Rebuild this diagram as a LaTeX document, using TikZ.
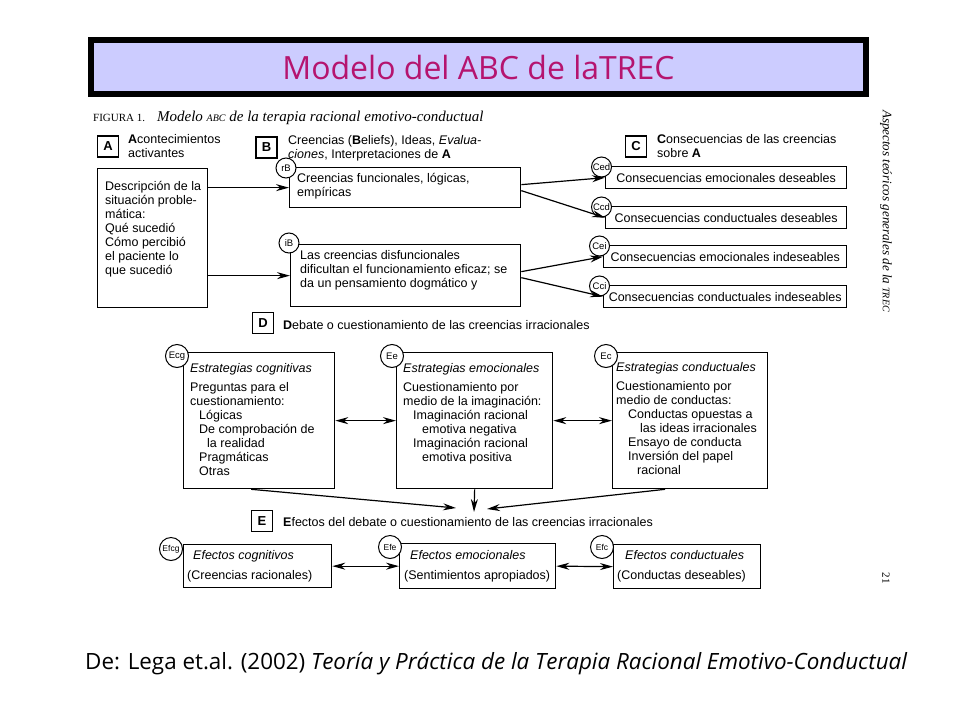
\documentclass[tikz,border=0pt]{standalone}
\usepackage{fontspec}
\setmainfont{Liberation Serif}
\setsansfont{Liberation Sans}
\newfontfamily\comic{Open Sans}
\usetikzlibrary{arrows.meta}

\definecolor{titlemag}{HTML}{B5146F}
\definecolor{lavender}{HTML}{CCCCFF}

\tikzset{
  box/.style={draw, line width=1.3pt, inner sep=0pt, anchor=north west},
  cbox/.style={box, minimum height=22pt, font=\sffamily\fontsize{12.5}{14}\selectfont},
  tag/.style={draw, circle, fill=white, line width=1pt, inner sep=0pt, minimum size=#1,
    font=\sffamily\fontsize{9.5}{10}\selectfont},
  tag/.default=20pt,
  letter/.style={draw, line width=1.4pt, minimum size=21pt, inner sep=0pt,
    font=\sffamily\bfseries\fontsize{13}{13}\selectfont},
  txt/.style={anchor=north west, align=left, inner sep=0pt, font=\sffamily\fontsize{12.5}{14}\selectfont},
  arr/.style={-{Stealth[length=13pt,width=7pt]}, line width=1.2pt},
  darr/.style={{Stealth[length=13pt,width=7pt]}-{Stealth[length=13pt,width=7pt]}, line width=1.2pt},
}

\begin{document}
\begin{tikzpicture}[x=1pt,y=-1pt]
    \useasboundingbox[fill=white] (0,0) rectangle (960,720);

    % Title banner
    \node[draw=black, line width=6pt, fill=lavender, minimum width=775pt, minimum height=54pt,
      text=titlemag, font=\comic\fontsize{32}{32}\selectfont] (title) at (478.5,67) {Modelo del ABC de laTREC};

    % Figure caption and side texts
    \node[anchor=base west, inner sep=0pt] (fig) at (93,121)
      {{\fontsize{11}{11}\selectfont FIGURA 1.}\hspace{12pt}\textit{\fontsize{15}{15}\selectfont Modelo {\fontsize{10}{10}\selectfont ABC} de la terapia racional emotivo-conductual}};
    \node[rotate=-90, inner sep=0pt, font=\itshape\fontsize{13}{13}\selectfont] (side) at (886,211)
      {Aspectos teóricos generales de la {\fontsize{10}{10}\selectfont TREC}};
    \node[rotate=-90, inner sep=0pt, font=\fontsize{11}{11}\selectfont] (pagenum) at (886,578) {21};

    % A: activating events
    \node[letter] (A) at (108,146.5) {A};
    \node[txt] (Ahead) at (128,134) {\textbf{A}contecimientos\\activantes};
    \node[box, minimum width=110pt, minimum height=139pt] (Abox) at (97,168) {};
    \node[txt] (Atext) at (105,181) {Descripción de la\\situación proble-\\mática:\\Qué sucedió\\Cómo percibió\\el paciente lo\\que sucedió};

    % B: beliefs
    \node[letter] (B) at (266.5,147.5) {B};
    \node[txt] (Bhead) at (288,135) {Creencias (\textbf{B}eliefs), Ideas, \textit{Evalua-}\\\textit{ciones}, Interpretaciones de \textbf{A}};
    \node[box, minimum width=231pt, minimum height=40pt] (rB) at (289,167) {};
    \node[tag] (rBtag) at (286,168) {rB};
    \node[txt] (rBtext) at (297,173) {Creencias funcionales, lógicas,\\empíricas};
    \node[box, minimum width=230pt, minimum height=62pt] (iB) at (290,244) {};
    \node[tag] (iBtag) at (289,243) {iB};
    \node[txt] (iBtext) at (300,250) {Las creencias disfuncionales\\dificultan el funcionamiento eficaz; se\\da un pensamiento dogmático y};

    % C: consequences
    \node[letter] (C) at (636,146.5) {C};
    \node[txt] (Chead) at (657,134) {\textbf{C}onsecuencias de las creencias\\sobre \textbf{A}};
    \foreach \n/\x/\y/\w/\t in {Ced/605/166/241/Consecuencias emocionales deseables,
                                Ccd/605/206/241/Consecuencias conductuales deseables,
                                Cei/603/245/243/Consecuencias emocionales indeseables,
                                Cci/603/285/243/Consecuencias conductuales indeseables}{
      \node[cbox, minimum width=\w pt] (\n) at (\x,\y) {\t};
      \node[tag] (\n tag) at (\x-3.5,\y+1) {\n};
    }

    % A -> B -> C
    \draw[arr] (Abox.east |- rB.west) -- (rB.west);
    \draw[arr] (Abox.east |- iB.west) -- (iB.west);
    \draw[arr] ([yshift=3pt]rB.east) -- (Ced.west);
    \draw[arr] ([yshift=-3pt]rB.east) -- (Ccd.west);
    \draw[arr] ([yshift=4pt]iB.east) -- (Cei.west);
    \draw[arr] ([yshift=-2pt]iB.east) -- (Cci.west);

    % D: disputing strategies
    \node[letter] (D) at (263,323) {D};
    \node[txt, anchor=west] (Dhead) at (283,325) {\textbf{D}ebate o cuestionamiento de las creencias irracionales};
    \node[box, minimum width=151pt, minimum height=136pt] (Ecg) at (183,352) {};
    \node[box, minimum width=156pt, minimum height=136pt] (Ee) at (396,352) {};
    \node[box, minimum width=155pt, minimum height=136pt] (Ec) at (612,352) {};
    \node[tag=23pt] (Ecgtag) at (177,356) {Ecg};
    \node[tag=23pt] (Eetag) at (392,356) {Ee};
    \node[tag=23pt] (Ectag) at (606,356) {Ec};
    \node[txt] (Ecgtext) at (190,363) {\textit{Estrategias cognitivas}\\[5pt]Preguntas para el\\cuestionamiento:\\
      \hspace*{9pt}Lógicas\\\hspace*{9pt}De comprobación de\\\hspace*{17pt}la realidad\\\hspace*{9pt}Pragmáticas\\\hspace*{9pt}Otras};
    \node[txt] (Eetext) at (403,363) {\textit{Estrategias emocionales}\\[5pt]Cuestionamiento por\\medio de la imaginación:\\
      \hspace*{10pt}Imaginación racional\\\hspace*{19pt}emotiva negativa\\\hspace*{10pt}Imaginación racional\\\hspace*{19pt}emotiva positiva};
    \node[txt] (Ectext) at (616,362) {\textit{Estrategias conductuales}\\[5pt]Cuestionamiento por\\medio de conductas:\\
      \hspace*{12pt}Conductas opuestas a\\\hspace*{24pt}las ideas irracionales\\\hspace*{12pt}Ensayo de conducta\\\hspace*{12pt}Inversión del papel\\\hspace*{21pt}racional};
    \draw[darr] (Ecg.east) -- (Ee.west);
    \draw[darr] (Ee.east) -- (Ec.west);

    % D -> E
    \coordinate (hubL) at (456,508);
    \coordinate (hubM) at (474,512);
    \coordinate (hubR) at (487,509);
    \draw[arr] ([xshift=-8pt]Ecg.south) -- (hubL);
    \draw[arr] (Ee.south) -- (hubM);
    \draw[arr] ([xshift=-25pt]Ec.south) -- (hubR);

    % E: effects
    \node[letter] (E) at (262,521) {E};
    \node[txt, anchor=west] (Ehead) at (283,522) {\textbf{E}fectos del debate o cuestionamiento de las creencias irracionales};
    \node[box, minimum width=148pt, minimum height=43pt] (Efcg) at (183,544) {};
    \node[box, minimum width=156pt, minimum height=45pt] (Efe) at (399,543) {};
    \node[box, minimum width=147pt, minimum height=44pt] (Efc) at (613,544) {};
    \node[tag=23pt, font=\sffamily\fontsize{8.5}{9}\selectfont] (Efcgtag) at (171,549) {Efcg};
    \node[tag=23pt, font=\sffamily\fontsize{8.5}{9}\selectfont] (Efetag) at (390,547) {Efe};
    \node[tag=23pt, font=\sffamily\fontsize{8.5}{9}\selectfont] (Efctag) at (602,547) {Efc};
    \node[txt] (Efcgtext) at (187,550) {\hspace*{6pt}\textit{Efectos cognitivos}\\[6pt](Creencias racionales)};
    \node[txt] (Efetext) at (404,550) {\hspace*{6pt}\textit{Efectos emocionales}\\[6pt](Sentimientos apropiados)};
    \node[txt] (Efctext) at (617,550) {\hspace*{8pt}\textit{Efectos conductuales}\\[6pt](Conductas deseables)};
    \draw[darr] (Efcg.east) -- (Efe.west);
    \draw[darr] (Efe.east) -- (Efc.west);

    % Source
    \node[anchor=west, inner sep=0pt, font=\comic\fontsize{22.4}{22.4}\selectfont] (src) at (85,664)
      {De: Lega et.al. (2002) \textit{Teoría y Práctica de la Terapia Racional Emotivo-Conductual}};
\end{tikzpicture}
\end{document}
